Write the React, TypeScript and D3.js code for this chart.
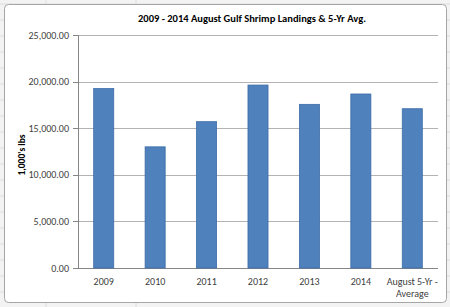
import React from "react";
import * as d3 from "d3";

const categories = ["2009", "2010", "2011", "2012", "2013", "2014", "August 5-Yr - Average"];
const values = [19250, 13000, 15700, 19630, 17560, 18670, 17090];
const yTicks = [0, 5000, 10000, 15000, 20000, 25000];
const title = "2009 - 2014  August Gulf Shrimp Landings & 5-Yr Avg.";
const yTitle = "1,000's lbs";

export default function App() {
  const W = 450, H = 307;
  const left = 78, right = 438, top = 35, bottom = 268;
  const x = d3.scaleBand().domain(categories).range([left, right]).paddingInner(0.61).paddingOuter(0.305);
  const y = d3.scaleLinear().domain([0, 25000]).range([bottom, top]);
  const fmt = d3.format(",.2f");
  const font = "Calibri, Carlito, 'Liberation Sans', Arial, sans-serif";
  const bgLines = [];
  for (let i = 0; i < 20; i++) bgLines.push(i * 16 + 4);
  return (
    <svg width={W} height={H} style={{ position: "absolute", left: 0, top: 0, fontFamily: font }}>
      <rect x={0} y={0} width={W} height={H} fill="#f3f3f3" />
      {bgLines.map((v, i) => (
        <line key={i} x1={0} x2={W} y1={v} y2={v} stroke="#dcdcdc" strokeWidth={1} />
      ))}
      <line x1={46} x2={46} y1={0} y2={H} stroke="#dcdcdc" />
      <line x1={136} x2={136} y1={0} y2={H} stroke="#dcdcdc" />
      <rect x={4.5} y={4.5} width={442} height={298} rx={4} fill="#ffffff" stroke="#a6a6a6" strokeWidth={1} />
      {yTicks.map((t) => (
        <g key={t}>
          {t > 0 && (
            <line x1={left} x2={right} y1={Math.round(y(t)) + 0.5} y2={Math.round(y(t)) + 0.5} stroke="#b3b3b3" strokeWidth={1} />
          )}
          <line x1={left - 5} x2={left} y1={Math.round(y(t)) + 0.5} y2={Math.round(y(t)) + 0.5} stroke="#868686" />
          <text x={left - 9} y={y(t)} dy="0.35em" textAnchor="end" fontSize={10} fill="#404040">
            {fmt(t)}
          </text>
        </g>
      ))}
      <line x1={left + 0.5} x2={left + 0.5} y1={top} y2={bottom} stroke="#868686" />
      <line x1={left} x2={right} y1={bottom + 0.5} y2={bottom + 0.5} stroke="#868686" />
      {categories.map((c, i) => (
        <rect key={c} x={x(c)} y={y(values[i])} width={x.bandwidth()} height={bottom - y(values[i])} fill="#4f81bd" stroke="#3c6ca8" strokeWidth={0.8} />
      ))}
      {categories.map((c) => {
        const cx = x(c)! + x.bandwidth() / 2;
        if (c.startsWith("August")) {
          return (
            <text key={"l" + c} x={cx} y={281} textAnchor="middle" fontSize={10} fill="#404040">
              <tspan x={cx} dy="0.35em">August 5-Yr -</tspan>
              <tspan x={cx} dy="12">Average</tspan>
            </text>
          );
        }
        return (
          <text key={"l" + c} x={cx} y={281} dy="0.35em" textAnchor="middle" fontSize={10} fill="#404040">
            {c}
          </text>
        );
      })}
      <text x={252} y={18} dy="0.35em" textAnchor="middle" fontSize={10.5} fontWeight="bold" fill="#000">
        {title}
      </text>
      <text transform="translate(22,155) rotate(-90)" textAnchor="middle" dy="0.35em" fontSize={9.5} fontWeight="bold" fill="#000">
        {yTitle}
      </text>
    </svg>
  );
}
